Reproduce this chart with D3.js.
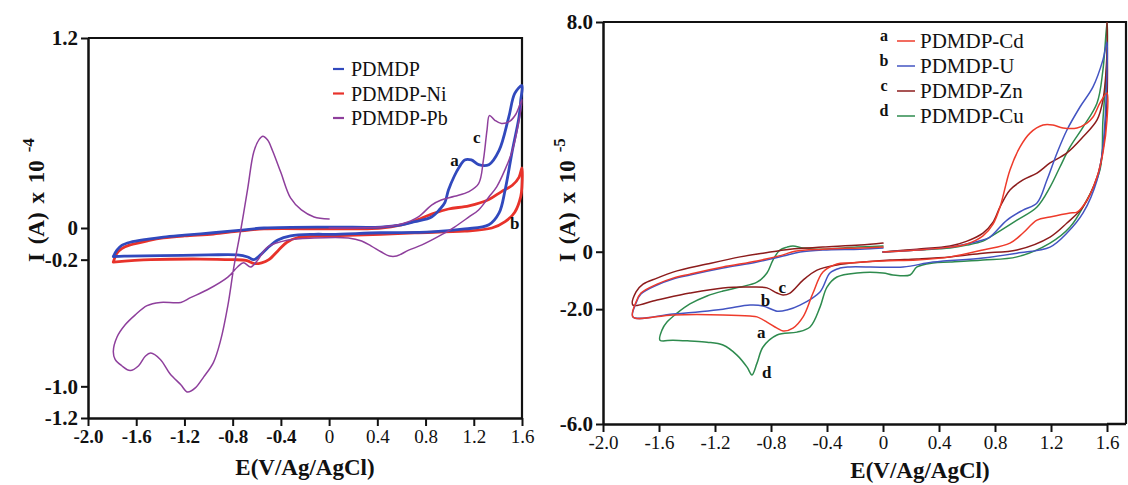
<!DOCTYPE html>
<html>
<head>
<meta charset="utf-8">
<script src="https://cdn.jsdelivr.net/npm/d3@7"></script>
<style>
  html, body { margin: 0; padding: 0; background: #fff; }
  svg { display: block; }
</style>
</head>
<body>
<svg id="chart" width="1128" height="485"></svg>
<script>
// ---------- shared axis data ----------
const xTickValues = [-2.0, -1.6, -1.2, -0.8, -0.4, 0, 0.4, 0.8, 1.2, 1.6];
const xTickLabels = ["-2.0", "-1.6", "-1.2", "-0.8", "-0.4", "0", "0.4", "0.8", "1.2", "1.6"];

// ---------- left panel: PDMDP, PDMDP-Ni, PDMDP-Pb (I in 1e-4 A) ----------
const leftYTickValues = [1.2, 0, -0.2, -1.0, -1.2];
const leftYTickLabels = ["1.2", "0", "-0.2", "-1.0", "-1.2"];
const leftNames = ["PDMDP", "PDMDP-Ni", "PDMDP-Pb"];

const cvPDMDP = [
  [-1.79,-0.18],[-1.76,-0.14],[-1.72,-0.11],[-1.65,-0.09],[-1.5,-0.07],[-1.375,-0.057],[-1.2,-0.045],
  [-0.96,-0.03],[-0.75,-0.015],[-0.54,0],[0.02,0.006],[0.43,0.006],[0.6,0.02],[0.71,0.04],[0.85,0.07],
  [0.92,0.12],[0.96,0.16],[0.99,0.24],[1.04,0.33],[1.08,0.385],[1.125,0.43],[1.18,0.43],[1.24,0.40],
  [1.325,0.40],[1.41,0.49],[1.49,0.70],[1.54,0.85],[1.6,0.90],
  [1.59,0.81],[1.575,0.70],[1.52,0.49],[1.46,0.24],[1.41,0.095],[1.325,0.02],[1.125,-0.006],
  [0.85,-0.025],[0.43,-0.03],[0.02,-0.04],[-0.125,-0.04],[-0.32,-0.05],[-0.425,-0.076],[-0.51,-0.126],
  [-0.57,-0.17],[-0.625,-0.2],[-0.675,-0.183],[-0.76,-0.17],[-1.0,-0.17],[-1.4,-0.175],[-1.7,-0.177],[-1.79,-0.18]
];

const cvPDMDPNi = [
  [-1.79,-0.215],[-1.76,-0.16],[-1.72,-0.13],[-1.65,-0.107],[-1.5,-0.08],[-1.375,-0.063],[-1.2,-0.05],
  [-0.96,-0.038],[-0.75,-0.02],[-0.54,-0.006],[0.02,-0.006],[0.43,0],[0.6,0.02],[0.71,0.044],[0.85,0.088],
  [0.99,0.12],[1.16,0.14],[1.325,0.18],[1.43,0.23],[1.52,0.27],[1.575,0.32],[1.6,0.38],
  [1.6,0.27],[1.59,0.20],[1.54,0.10],[1.46,0.04],[1.35,0],[1.125,-0.02],[0.71,-0.03],[0.43,-0.04],
  [0.02,-0.05],[-0.26,-0.06],[-0.35,-0.09],[-0.42,-0.14],[-0.5,-0.2],[-0.56,-0.22],[-0.62,-0.225],
  [-0.69,-0.205],[-0.8,-0.2],[-1.07,-0.196],[-1.48,-0.2],[-1.79,-0.215]
];

const cvPDMDPPb = [
  [0.0,0.0],[0.43,0.006],[0.6,0.025],[0.74,0.07],[0.85,0.145],[0.93,0.177],[1.04,0.2],[1.16,0.23],
  [1.24,0.28],[1.28,0.43],[1.31,0.62],[1.33,0.71],[1.375,0.68],[1.43,0.66],[1.5,0.675],[1.55,0.72],[1.6,0.81],
  [1.56,0.62],[1.52,0.49],[1.46,0.37],[1.39,0.26],[1.325,0.196],[1.24,0.114],[1.16,0.07],[1.04,0.006],
  [0.93,-0.044],[0.77,-0.107],[0.66,-0.14],[0.56,-0.177],[0.5,-0.177],[0.43,-0.15],[0.35,-0.114],
  [0.27,-0.082],[0.16,-0.063],[-0.125,-0.063],[-0.34,-0.076],[-0.51,-0.12],[-0.59,-0.2],[-0.65,-0.246],
  [-0.71,-0.22],[-0.76,-0.246],[-0.84,-0.31],[-1.01,-0.39],[-1.15,-0.44],[-1.23,-0.47],[-1.4,-0.47],
  [-1.51,-0.49],[-1.61,-0.55],[-1.69,-0.61],[-1.76,-0.69],[-1.79,-0.78],
  [-1.775,-0.83],[-1.72,-0.87],[-1.65,-0.9],[-1.58,-0.87],[-1.525,-0.81],[-1.48,-0.79],[-1.4,-0.83],
  [-1.32,-0.92],[-1.23,-0.99],[-1.175,-1.036],[-1.11,-1.01],[-1.04,-0.94],[-0.96,-0.85],[-0.9,-0.71],
  [-0.84,-0.49],[-0.79,-0.246],[-0.73,0],[-0.675,0.25],[-0.625,0.48],[-0.58,0.56],[-0.55,0.58],
  [-0.51,0.556],[-0.47,0.49],[-0.4,0.35],[-0.32,0.19],[-0.23,0.114],[-0.125,0.07],[0.0,0.057]
];

// ---------- right panel: PDMDP-Cd, -U, -Zn, -Cu (I in 1e-5 A) ----------
const rightYTickValues = [8.0, 0, -2.0, -6.0];
const rightYTickLabels = ["8.0", "0", "-2.0", "-6.0"];
const rightNames = ["PDMDP-Cd", "PDMDP-U", "PDMDP-Zn", "PDMDP-Cu"];
const rightLetters = ["a", "b", "c", "d"];

const cvCd = [
  [0,-0.01],[0.243,0.06],[0.479,0.16],[0.6,0.27],[0.714,0.55],[0.786,0.96],[0.836,1.56],[0.907,2.85],
  [0.979,3.65],[1.05,4.13],[1.143,4.41],[1.214,4.41],[1.286,4.31],[1.386,4.31],[1.457,4.48],[1.5,4.69],
  [1.55,5.18],[1.6,5.53],
  [1.6,4.59],[1.571,3.44],[1.529,2.6],[1.457,1.8],[1.386,1.38],[1.336,1.35],[1.193,1.21],[1.1,1.1],
  [1.0,0.65],[0.907,0.30],[0.714,0.06],[0.479,-0.18],[0.243,-0.29],[0,-0.32],[-0.236,-0.39],[-0.329,-0.43],
  [-0.429,-0.71],[-0.5,-1.44],[-0.571,-2.27],[-0.643,-2.66],[-0.714,-2.76],[-0.757,-2.66],[-0.829,-2.45],
  [-0.9,-2.27],[-0.95,-2.24],[-1.143,-2.2],[-1.5,-2.2],[-1.786,-2.27],
  [-1.764,-1.75],[-1.729,-1.44],[-1.614,-1.13],[-1.5,-0.92],[-1.379,-0.78],[-1.143,-0.53],[-0.9,-0.32],
  [-0.714,-0.11],[-0.629,0.02],[-0.429,0.09],[-0.164,0.13],[0,0.16]
];

const cvU = [
  [0,-0.01],[0.243,0.06],[0.479,0.16],[0.6,0.27],[0.714,0.41],[0.764,0.51],[0.886,1.1],[1.0,1.45],
  [1.1,1.7],[1.171,2.5],[1.243,3.44],[1.314,4.24],[1.407,5.04],[1.5,5.74],[1.571,6.68],[1.6,7.3],
  [1.6,6.33],[1.571,3.65],[1.529,2.5],[1.429,1.35],[1.314,0.65],[1.193,0.16],[0.957,-0.05],[0.714,-0.22],
  [0.357,-0.36],[0.143,-0.53],[-0.236,-0.53],[-0.307,-0.57],[-0.379,-0.74],[-0.45,-1.4],[-0.593,-1.86],
  [-0.686,-2.03],[-0.757,-2.07],[-0.857,-1.89],[-0.95,-1.86],[-1.143,-2.0],[-1.5,-2.17],[-1.786,-2.27],
  [-1.764,-1.79],[-1.729,-1.47],[-1.614,-1.16],[-1.5,-0.95],[-1.379,-0.81],[-1.143,-0.57],[-0.9,-0.36],
  [-0.714,-0.15],[-0.593,-0.01],[-0.429,0.06],[-0.164,0.09],[0,0.13]
];

const cvZn = [
  [0,-0.01],[0.243,0.09],[0.479,0.2],[0.6,0.37],[0.714,0.65],[0.786,1.03],[0.836,1.56],[0.907,2.15],
  [1.0,2.5],[1.1,2.74],[1.193,3.09],[1.314,3.44],[1.429,4.0],[1.529,4.59],[1.571,5.28],[1.6,6.92],[1.6,7.97],
  [1.6,5.28],[1.571,3.54],[1.529,2.6],[1.429,1.56],[1.314,1.0],[1.193,0.51],[0.957,0.06],[0.714,-0.05],
  [0.479,-0.18],[0.243,-0.25],[0.05,-0.29],[-0.143,-0.36],[-0.329,-0.46],[-0.471,-0.64],[-0.571,-0.99],
  [-0.664,-1.44],[-0.714,-1.51],[-0.757,-1.44],[-0.829,-1.26],[-0.95,-1.23],[-1.143,-1.26],[-1.379,-1.44],
  [-1.614,-1.68],[-1.786,-1.86],
  [-1.764,-1.4],[-1.714,-1.13],[-1.614,-0.92],[-1.5,-0.71],[-1.257,-0.43],[-1.021,-0.18],[-0.857,-0.05],
  [-0.664,0.09],[-0.429,0.16],[-0.164,0.23],[0,0.30]
];

const cvCu = [
  [0,-0.01],[0.243,0.06],[0.479,0.13],[0.6,0.23],[0.714,0.37],[0.764,0.51],[0.957,1.1],[1.1,1.56],
  [1.193,2.25],[1.264,2.95],[1.336,3.65],[1.429,4.34],[1.529,5.18],[1.571,6.33],[1.6,7.97],
  [1.6,6.68],[1.571,4.59],[1.55,2.85],[1.429,1.56],[1.336,0.86],[1.193,0.30],[0.957,-0.18],[0.714,-0.29],
  [0.479,-0.36],[0.357,-0.39],[0.243,-0.53],[0.193,-0.81],[0.071,-0.81],[0,-0.74],[-0.186,-0.74],
  [-0.329,-0.88],[-0.4,-1.23],[-0.45,-1.93],[-0.521,-2.62],[-0.614,-2.8],[-0.757,-2.9],[-0.857,-3.32],
  [-0.9,-3.88],[-0.936,-4.29],[-0.971,-4.02],[-1.043,-3.6],[-1.143,-3.25],[-1.257,-3.15],[-1.379,-3.11],
  [-1.5,-3.08],[-1.593,-3.08],
  [-1.579,-2.73],[-1.543,-2.45],[-1.471,-2.14],[-1.379,-1.82],[-1.257,-1.54],[-1.143,-1.37],[-1.021,-1.23],
  [-0.9,-1.06],[-0.829,-0.74],[-0.786,-0.29],[-0.736,0.06],[-0.686,0.16],[-0.643,0.2],[-0.571,0.13],
  [-0.471,0.09],[-0.186,0.16],[0,0.2]
];

// curve labels placed in data coordinates
const leftCurveTags = [{t: "a", e: 1.04, i: 0.43}, {t: "c", e: 1.225, i: 0.575}, {t: "b", e: 1.54, i: 0.03}];
const rightCurveTags = [{t: "c", e: -0.72, i: -1.23}, {t: "b", e: -0.84, i: -1.68},
                        {t: "a", e: -0.87, i: -2.8}, {t: "d", e: -0.83, i: -4.19}];

// ---------- drawing ----------
const SERIF = '"Liberation Serif", "Times New Roman", Times, serif';
const svg = d3.select("#chart");

function drawPanel(cfg) {
  const g = svg.append("g");
  const x = d3.scaleLinear().domain([-2.0, 1.6]).range([cfg.x0, cfg.x1]);
  const y = d3.scaleLinear().domain(cfg.yDomain).range([cfg.yBottom, cfg.yTop]);

  // frame (top and right sides)
  g.append("path")
    .attr("d", `M${cfg.x0},${cfg.yTop}H${cfg.frameRight}V${cfg.yBottom}`)
    .attr("fill", "none").attr("stroke", "#111").attr("stroke-width", 2.2);
  if (cfg.frameRight > cfg.x1) {
    g.append("line")
      .attr("x1", cfg.x1).attr("x2", cfg.frameRight)
      .attr("y1", cfg.yBottom).attr("y2", cfg.yBottom)
      .attr("stroke", "#111").attr("stroke-width", 2.5);
  }

  // x axis
  const xAxis = g.append("g")
    .attr("transform", `translate(0,${cfg.yBottom})`)
    .call(d3.axisBottom(x).tickValues(xTickValues)
      .tickFormat((d, k) => xTickLabels[k]).tickSize(8).tickSizeOuter(0).tickPadding(4));
  xAxis.select(".domain").attr("stroke", "#111").attr("stroke-width", 2.5);
  xAxis.selectAll(".tick line").attr("stroke", "#111").attr("stroke-width", 2);
  xAxis.selectAll(".tick text")
    .attr("fill", "#111").style("font-family", SERIF).style("font-size", cfg.xTickFont + "px")
    .style("font-weight", d => cfg.xBold(d) ? "bold" : "normal");

  // y axis
  const yAxis = g.append("g")
    .attr("transform", `translate(${cfg.x0},0)`)
    .call(d3.axisLeft(y).tickValues(cfg.yTicks)
      .tickFormat((d, k) => cfg.yLabels[k]).tickSize(7).tickSizeOuter(0).tickPadding(3));
  yAxis.select(".domain").attr("stroke", "#111").attr("stroke-width", 2.5);
  yAxis.selectAll(".tick line").attr("stroke", "#111").attr("stroke-width", 2);
  yAxis.selectAll(".tick text")
    .attr("fill", "#111").style("font-family", SERIF).style("font-size", cfg.yTickFont + "px")
    .style("font-weight", "bold");

  // axis titles
  g.append("text")
    .attr("x", cfg.xTitleX).attr("y", cfg.xTitleY)
    .attr("text-anchor", "middle")
    .style("font-family", SERIF).style("font-size", "23px").style("font-weight", "bold")
    .attr("fill", "#111")
    .text("E(V/Ag/AgCl)");

  const yt = g.append("text")
    .attr("transform", `translate(${cfg.yTitleX},${cfg.yTitleY}) rotate(-90)`)
    .attr("text-anchor", "start")
    .style("font-family", SERIF).style("font-size", "23px").style("font-weight", "bold")
    .style("word-spacing", "3px")
    .attr("fill", "#111");
  yt.append("tspan").text("I (A) x 10");
  yt.append("tspan").attr("dy", -10).attr("dx", 8).style("font-size", "17px").text(cfg.exponent);

  // curves
  const line = d3.line()
    .x(d => x(d[0])).y(d => y(d[1]))
    .curve(d3.curveCatmullRom.alpha(0.5));
  cfg.series.forEach(s => {
    g.append("path")
      .datum(s.data)
      .attr("d", line)
      .attr("fill", "none")
      .attr("stroke", s.color)
      .attr("stroke-width", s.width)
      .attr("stroke-linejoin", "round")
      .attr("stroke-linecap", "round");
  });

  // curve tags
  cfg.tags.forEach(t => {
    g.append("text")
      .attr("x", x(t.e)).attr("y", y(t.i))
      .attr("text-anchor", "middle").attr("dy", "0.35em")
      .style("font-family", SERIF).style("font-size", "17px").style("font-weight", "bold")
      .attr("fill", "#111").text(t.t);
  });

  return {g, x, y};
}

// left panel
const left = drawPanel({
  x0: 88, x1: 522, frameRight: 522, yTop: 38, yBottom: 418,
  yDomain: [-1.2, 1.2], yTicks: leftYTickValues, yLabels: leftYTickLabels,
  xTickFont: 19, yTickFont: 21, xBold: d => d < 0,
  xTitleX: 305, xTitleY: 475, yTitleX: 44, yTitleY: 262, exponent: "-4",
  series: [
    {data: cvPDMDPNi, color: "#e8322a", width: 2.8},
    {data: cvPDMDP, color: "#3149bd", width: 2.8},
    {data: cvPDMDPPb, color: "#8e3f9c", width: 1.5}
  ],
  tags: leftCurveTags
});

// right panel
const right = drawPanel({
  x0: 603, x1: 1107, frameRight: 1126, yTop: 22, yBottom: 424,
  yDomain: [-6.0, 8.0], yTicks: rightYTickValues, yLabels: rightYTickLabels,
  xTickFont: 19, yTickFont: 21, xBold: d => false,
  xTitleX: 920, xTitleY: 478, yTitleX: 575, yTitleY: 262, exponent: "-5",
  series: [
    {data: cvCu, color: "#2e8b4e", width: 1.5},
    {data: cvZn, color: "#8c1c1c", width: 1.5},
    {data: cvU, color: "#4354c2", width: 1.5},
    {data: cvCd, color: "#ee3b2b", width: 1.5}
  ],
  tags: rightCurveTags
});

// legends
const leftColors = ["#3149bd", "#e8322a", "#8e3f9c"];
const leftLegend = svg.append("g").attr("transform", "translate(333,69)");
leftNames.forEach((n, k) => {
  const row = leftLegend.append("g").attr("transform", `translate(0,${k * 24.5})`);
  row.append("line").attr("x1", 0).attr("x2", 11).attr("y1", 0).attr("y2", 0)
    .attr("stroke", leftColors[k]).attr("stroke-width", 2.2);
  row.append("text").attr("x", 18).attr("dy", "0.35em")
    .style("font-family", SERIF).style("font-size", "20px").attr("fill", "#111").text(n);
});

const rightColors = ["#ee3b2b", "#4354c2", "#8c1c1c", "#2e8b4e"];
const rightLegend = svg.append("g").attr("transform", "translate(884,39)");
rightNames.forEach((n, k) => {
  const row = rightLegend.append("g").attr("transform", `translate(0,${k * 25})`);
  row.append("text").attr("x", 0).attr("dy", "0.1em").attr("text-anchor", "middle")
    .style("font-family", SERIF).style("font-size", "16px").style("font-weight", "bold")
    .attr("fill", "#111").text(rightLetters[k]);
  row.append("line").attr("x1", 13).attr("x2", 31).attr("y1", 2).attr("y2", 2)
    .attr("stroke", rightColors[k]).attr("stroke-width", 1.5);
  row.append("text").attr("x", 36).attr("dy", "0.42em")
    .style("font-family", SERIF).style("font-size", "21px").attr("fill", "#111").text(n);
});
</script>
</body>
</html>
